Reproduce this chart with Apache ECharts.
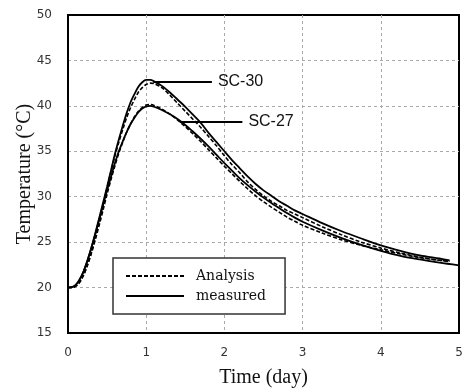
<!DOCTYPE html>
<html>
<head>
<meta charset="utf-8">
<script src="https://cdn.jsdelivr.net/npm/echarts@6/dist/echarts.min.js"></script>
<style>html,body{margin:0;padding:0;background:#fff;}#chart{width:462px;height:389px;}</style>
</head>
<body>
<div id="chart"></div>
<script>
// Time (day)
const timeDays = [0,0.05,0.1,0.15,0.2,0.25,0.3,0.35,0.4,0.45,0.5,0.55,0.6,0.65,0.7,0.75,0.8,0.85,0.9,0.95,1.0,1.05,1.1,1.2,1.3,1.4,1.5,1.6,1.7,1.8,1.9,2.0,2.1,2.2,2.3,2.4,2.5,2.6,2.7,2.8,2.9,3.0,3.25,3.5,3.75,4.0,4.25,4.5,4.75,4.88];
const timeDaysSC27Measured = [0,0.05,0.1,0.15,0.2,0.25,0.3,0.35,0.4,0.45,0.5,0.55,0.6,0.65,0.7,0.75,0.8,0.85,0.9,0.95,1.0,1.05,1.1,1.2,1.3,1.4,1.5,1.6,1.7,1.8,1.9,2.0,2.1,2.2,2.3,2.4,2.5,2.6,2.7,2.8,2.9,3.0,3.25,3.5,3.75,4.0,4.25,4.5,4.75,5.0];

const sc30Measured = [20,20.05,20.3,20.9,21.8,23.0,24.4,26.0,27.7,29.4,31.1,32.9,34.7,36.3,37.8,39.2,40.4,41.3,42.1,42.6,42.85,42.85,42.7,42.2,41.5,40.7,39.9,39.0,38.1,37.0,36.0,35.0,34.0,33.1,32.2,31.4,30.7,30.1,29.5,29.0,28.5,28.1,27.1,26.2,25.4,24.65,24.05,23.55,23.2,23.0];
const sc30Analysis = [20,20.0,20.15,20.6,21.4,22.5,23.9,25.5,27.3,29.1,31.0,32.8,34.5,36.0,37.4,38.7,39.8,40.7,41.5,42.0,42.35,42.5,42.45,42.0,41.2,40.3,39.4,38.5,37.6,36.6,35.6,34.5,33.5,32.6,31.6,30.8,30.1,29.5,29.0,28.5,28.1,27.7,26.7,25.8,25.0,24.35,23.8,23.35,23.0,22.9];
const sc27Measured = [20,20.05,20.3,20.9,21.8,23.0,24.4,25.9,27.5,29.1,30.7,32.2,33.7,35.0,36.1,37.1,38.0,38.7,39.3,39.7,39.95,40.0,39.9,39.55,39.1,38.55,37.9,37.15,36.35,35.5,34.6,33.7,32.85,32.0,31.25,30.55,29.9,29.3,28.75,28.2,27.7,27.25,26.3,25.45,24.7,24.05,23.5,23.1,22.75,22.45];
const sc27Analysis = [20,20.0,20.15,20.6,21.4,22.5,23.8,25.3,26.9,28.6,30.3,31.9,33.4,34.8,36.0,37.1,38.0,38.8,39.4,39.8,40.1,40.15,40.05,39.65,39.1,38.45,37.7,36.9,36.05,35.15,34.25,33.35,32.5,31.65,30.85,30.1,29.45,28.85,28.3,27.75,27.3,26.85,26.0,25.25,24.65,24.15,23.7,23.3,23.0,22.85];

// Callout leaders: [startDay, endDay, temperature]
const sc30Callout = [1.09, 1.84, 42.65];
const sc27Callout = [1.43, 2.23, 38.3];

const yTicks = {min: 15, max: 50, interval: 5};
const xTicks = {min: 0, max: 5, interval: 1};

function pairs(xs, ys) { return xs.map((x, i) => [x, ys[i]]); }

const chart = echarts.init(document.getElementById('chart'), null, {renderer: 'canvas'});

function callout(c, text) {
  return {
    silent: true,
    symbol: ['none', 'none'],
    animation: false,
    lineStyle: {color: '#000', width: 1.8, type: 'solid'},
    label: {show: true, position: 'end', formatter: text, distance: 6,
            fontFamily: 'Liberation Sans', fontSize: 16, color: '#111'},
    data: [[{coord: [c[0], c[2]]}, {coord: [c[1], c[2]]}]]
  };
}

const gridSplit = {show: true, showMinLine: false, showMaxLine: false,
                   lineStyle: {color: '#aaa', width: 1, type: [3, 3]}};

const option = {
  animation: false,
  backgroundColor: '#fff',
  grid: {left: 68, right: 3, top: 15, bottom: 56, show: true, borderColor: '#000', borderWidth: 2,
         containLabel: false, outerBoundsMode: 'none'},
  legend: {
    data: ['Analysis', 'measured'],
    left: 113, top: 258, orient: 'vertical',
    itemWidth: 58, itemHeight: 12, itemGap: 6,
    padding: [11, 19, 11, 12],
    borderColor: '#333', borderWidth: 1.5, backgroundColor: '#fff',
    itemStyle: {opacity: 0},
    textStyle: {fontFamily: 'DejaVu Serif', fontSize: 14, color: '#111', padding: [0, 0, 0, 7]}
  },
  xAxis: {
    type: 'value', min: xTicks.min, max: xTicks.max, interval: xTicks.interval,
    name: 'Time (day)', nameLocation: 'middle', nameGap: 35, nameMoveOverlap: false,
    nameTextStyle: {fontFamily: 'Liberation Serif', fontSize: 20, color: '#111'},
    axisLine: {show: true, lineStyle: {color: '#000', width: 2}},
    axisTick: {show: false},
    axisLabel: {fontFamily: 'DejaVu Sans', fontSize: 12, color: '#333', margin: 14},
    splitLine: gridSplit
  },
  yAxis: {
    type: 'value', min: yTicks.min, max: yTicks.max, interval: yTicks.interval,
    name: 'Temperature (°C)', nameLocation: 'middle', nameGap: 33, nameMoveOverlap: false,
    nameTextStyle: {fontFamily: 'Liberation Serif', fontSize: 20, color: '#111'},
    axisLine: {show: true, lineStyle: {color: '#000', width: 2}},
    axisTick: {show: false},
    axisLabel: {fontFamily: 'DejaVu Sans', fontSize: 12, color: '#333', margin: 16},
    splitLine: gridSplit
  },
  series: [
    {name: 'Analysis', type: 'line', smooth: 0.3, symbol: 'none', z: 3,
     lineStyle: {color: '#000', width: 1.6, type: [4, 2]}, itemStyle: {color: '#000'},
     data: pairs(timeDays, sc30Analysis)},
    {name: 'measured', type: 'line', smooth: 0.3, symbol: 'none', z: 3,
     lineStyle: {color: '#000', width: 1.8, type: 'solid'}, itemStyle: {color: '#000'},
     data: pairs(timeDays, sc30Measured), markLine: callout(sc30Callout, 'SC-30')},
    {name: 'Analysis', type: 'line', smooth: 0.3, symbol: 'none', z: 3,
     lineStyle: {color: '#000', width: 1.6, type: [4, 2]}, itemStyle: {color: '#000'},
     data: pairs(timeDays, sc27Analysis)},
    {name: 'measured', type: 'line', smooth: 0.3, symbol: 'none', z: 3,
     lineStyle: {color: '#000', width: 1.8, type: 'solid'}, itemStyle: {color: '#000'},
     data: pairs(timeDaysSC27Measured, sc27Measured), markLine: callout(sc27Callout, 'SC-27')}
  ]
};
chart.setOption(option);
</script>
</body>
</html>
